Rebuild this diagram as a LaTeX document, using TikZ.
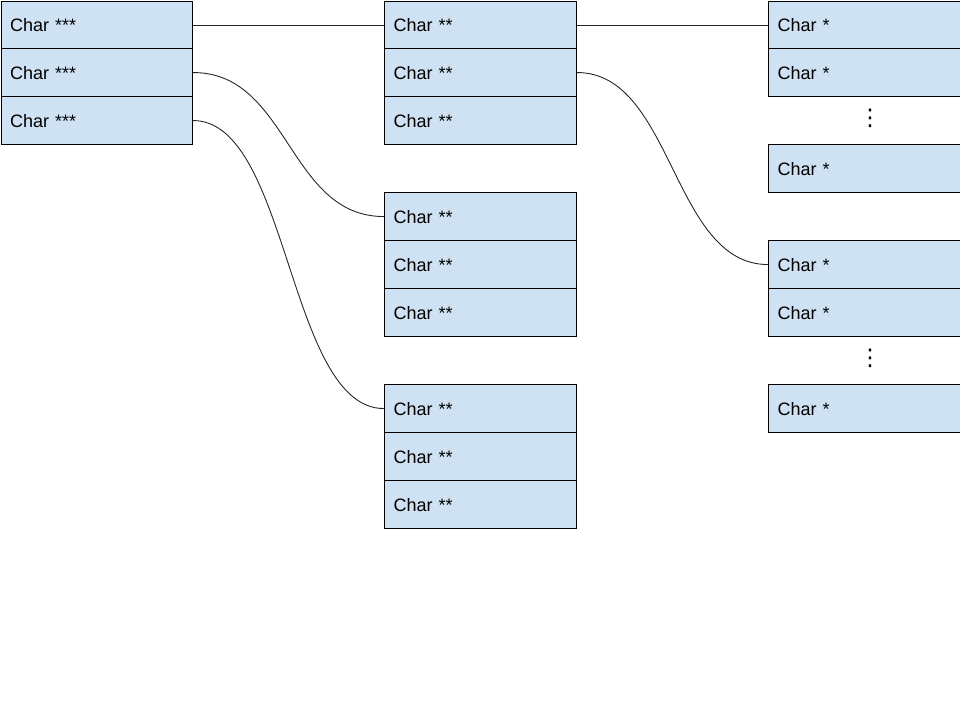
\documentclass[tikz,border=0pt]{standalone}
\usepackage{fontspec}
\setmainfont{Liberation Sans}
\newfontfamily\symfont{DejaVu Sans}
\definecolor{cellblue}{HTML}{CFE2F3}
\tikzset{
  cell/.style={draw=black, line width=1.1pt, fill=cellblue,
    minimum width=192pt, minimum height=48pt, inner sep=0pt,
    text width=174pt, align=left, anchor=north west,
    font=\fontsize{18}{22}\selectfont, text height=13pt, text depth=0pt},
  firstcol/.style={minimum width=191.4pt, text width=173.4pt},
  vdots/.style={inner sep=0pt, font=\symfont\fontsize{23}{26}\selectfont},
  link/.style={draw=black!85, line width=0.9pt},
}
\begin{document}
\begin{tikzpicture}[x=1pt, y=-1pt]
  \path[use as bounding box] (0,0) rectangle (960,720);
  \clip (0,0) rectangle (960,720);

  % first level: Char ***
  \node[cell, firstcol] (a1) at (0.6,0.6) {Char ***};
  \node[cell, firstcol] (a2) at (0.6,48)  {Char ***};
  \node[cell, firstcol] (a3) at (0.6,96)  {Char ***};

  % second level: Char **
  \node[cell] (b1) at (384,0.6) {Char **};
  \node[cell] (b2) at (384,48)  {Char **};
  \node[cell] (b3) at (384,96)  {Char **};

  \node[cell] (c1) at (384,192) {Char **};
  \node[cell] (c2) at (384,240) {Char **};
  \node[cell] (c3) at (384,288) {Char **};

  \node[cell] (d1) at (384,384) {Char **};
  \node[cell] (d2) at (384,432) {Char **};
  \node[cell] (d3) at (384,480) {Char **};

  % third level: Char *
  \node[cell] (e1) at (768,0.6) {Char *};
  \node[cell] (e2) at (768,48)  {Char *};
  \node[vdots] (edots) at (870,118) {⋮};
  \node[cell] (e3) at (768,144) {Char *};

  \node[cell] (f1) at (768,240) {Char *};
  \node[cell] (f2) at (768,288) {Char *};
  \node[vdots] (fdots) at (870,358) {⋮};
  \node[cell] (f3) at (768,384) {Char *};

  % pointers
  \draw[link] (a1.east) -- (b1.west);
  \draw[link] (a2.east) .. controls +(96,0) and +(-96,0) .. (c1.west);
  \draw[link] (a3.east) .. controls +(96,0) and +(-96,0) .. (d1.west);
  \draw[link] (b1.east) -- (e1.west);
  \draw[link] (b2.east) .. controls +(96,0) and +(-96,0) .. (f1.west);
\end{tikzpicture}
\end{document}
